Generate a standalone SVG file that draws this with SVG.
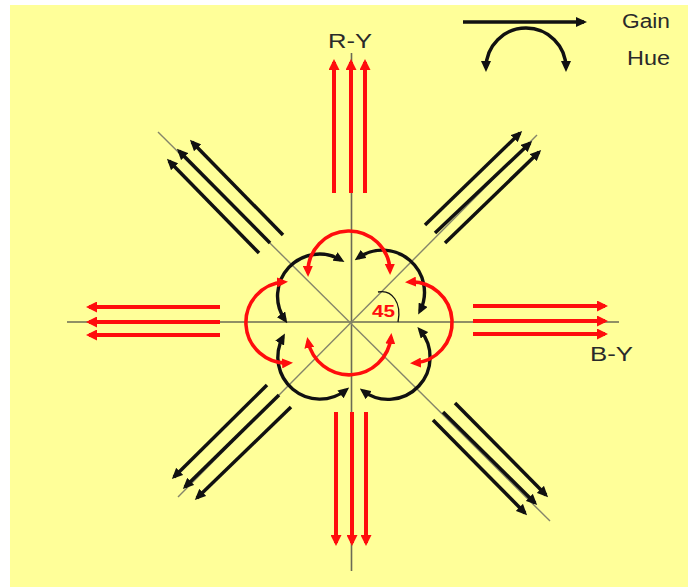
<svg xmlns="http://www.w3.org/2000/svg" width="688" height="587" viewBox="0 0 688 587">
  <defs>
    <style>
      .axis { stroke: #6b6b55; stroke-width: 1.6; fill: none; }
      .diag { stroke: #85856a; stroke-width: 1.4; fill: none; }
      .gk { stroke: #111; stroke-width: 3.5; fill: none; marker-end: url(#ahK); }
      .gr { stroke: #ff0d0d; stroke-width: 4; fill: none; marker-end: url(#ahR); }
      .hk { stroke: #111; stroke-width: 3.4; fill: none; marker-start: url(#ahKs); marker-end: url(#ahKs); }
      .hr { stroke: #ff0d0d; stroke-width: 3.6; fill: none; marker-start: url(#ahRs); marker-end: url(#ahRs); }
      .lbl { font-family: "Liberation Sans", Arial, sans-serif; font-size: 20px; fill: #2a2a2a; }
    </style>
    <marker id="ahK" viewBox="0 0 11 10" markerWidth="11" markerHeight="10" refX="8" refY="5" orient="auto-start-reverse" markerUnits="userSpaceOnUse">
      <path d="M0,0 L11,5 L0,10 z" fill="#111"/>
    </marker>
    <marker id="ahR" viewBox="0 0 11 11" markerWidth="11" markerHeight="11" refX="8" refY="5.5" orient="auto-start-reverse" markerUnits="userSpaceOnUse">
      <path d="M0,0 L11,5.5 L0,11 z" fill="#ff0d0d"/>
    </marker>
    <marker id="ahKs" viewBox="0 0 11 10" markerWidth="11" markerHeight="10" refX="7" refY="5" orient="auto-start-reverse" markerUnits="userSpaceOnUse">
      <path d="M0,0 L11,5 L0,10 z" fill="#111"/>
    </marker>
    <marker id="ahRs" viewBox="0 0 11 10" markerWidth="11" markerHeight="10" refX="7" refY="5" orient="auto-start-reverse" markerUnits="userSpaceOnUse">
      <path d="M0,0 L11,5 L0,10 z" fill="#ff0d0d"/>
    </marker>
  </defs>

  <rect x="0" y="0" width="688" height="587" fill="#ffffff"/>
  <rect x="10" y="5" width="678" height="582" fill="#ffff99"/>

  <g id="axes">
    <line class="axis" x1="351.5" y1="53" x2="351.5" y2="571"/>
    <line class="axis" x1="67" y1="322" x2="619" y2="322"/>
    <line class="diag" x1="158" y1="132" x2="550" y2="521"/>
    <line class="diag" x1="537" y1="135" x2="178" y2="497"/>
  </g>

  <g id="gain-arrows">
    <g id="gain-n">
      <path class="gr" d="M334,193 V62"/>
      <path class="gr" d="M351,193 V62"/>
      <path class="gr" d="M365,193 V62"/>
    </g>
    <g id="gain-s">
      <path class="gr" d="M336,412 V543"/>
      <path class="gr" d="M352,412 V543"/>
      <path class="gr" d="M366,412 V543"/>
    </g>
    <g id="gain-w">
      <path class="gr" d="M220,307 H89"/>
      <path class="gr" d="M220,322 H89"/>
      <path class="gr" d="M220,335 H89"/>
    </g>
    <g id="gain-e">
      <path class="gr" d="M473,306 H605"/>
      <path class="gr" d="M473,321 H605"/>
      <path class="gr" d="M473,334 H605"/>
    </g>
    <g id="gain-nw">
      <path class="gk" d="M259,253 L169,161"/>
      <path class="gk" d="M270,243 L179,151"/>
      <path class="gk" d="M283,235 L192,142"/>
    </g>
    <g id="gain-ne">
      <path class="gk" d="M425,225 L520,133"/>
      <path class="gk" d="M435,233 L530,143"/>
      <path class="gk" d="M445,243 L539,152"/>
    </g>
    <g id="gain-se">
      <path class="gk" d="M455,403 L546,495"/>
      <path class="gk" d="M443,412 L535,503"/>
      <path class="gk" d="M433,420 L525,513"/>
    </g>
    <g id="gain-sw">
      <path class="gk" d="M267,385 L174,477"/>
      <path class="gk" d="M279,395 L185,487"/>
      <path class="gk" d="M291,407 L197,498"/>
    </g>
  </g>

  <g id="hue-arrows">
    <path id="hue-nw" class="hk" d="M285,320 A42,42 0 0 1 341,260"/>
    <path id="hue-ne" class="hk" d="M358,258 A42,42 0 0 1 420,311"/>
    <path id="hue-se" class="hk" d="M420,330 A42,42 0 0 1 363,391"/>
    <path id="hue-sw" class="hk" d="M346,390 A42,42 0 0 1 283,337"/>
    <path id="hue-n" class="hr" d="M308,273 A41,41 0 0 1 390,271"/>
    <path id="hue-e" class="hr" d="M409,282 A40,40 0 0 1 414,363"/>
    <path id="hue-s" class="hr" d="M308,341 A42,42 0 0 0 391,337"/>
    <path id="hue-w" class="hr" d="M284,282 A40,40 0 0 0 289,363"/>
  </g>

  <g id="angle">
    <path d="M378,292 C392,289 402,303 398,322" fill="none" stroke="#111" stroke-width="1.3"/>
    <text x="372" y="317" font-family="Liberation Sans, Arial, sans-serif" font-size="16" font-weight="bold" fill="#ff0d0d" textLength="23" lengthAdjust="spacingAndGlyphs">45</text>
  </g>

  <g id="labels">
    <text class="lbl" x="328" y="48" textLength="44" lengthAdjust="spacingAndGlyphs">R-Y</text>
    <text class="lbl" x="590" y="361" textLength="43" lengthAdjust="spacingAndGlyphs">B-Y</text>
  </g>

  <g id="legend">
    <g id="legend-gain">
      <path class="gk" d="M463,22 H584" stroke-width="3"/>
      <text class="lbl" x="622" y="28" textLength="48" lengthAdjust="spacingAndGlyphs">Gain</text>
    </g>
    <g id="legend-hue">
      <path class="hk" d="M486,68 A40,40 0 0 1 566,68"/>
      <text class="lbl" x="627" y="65" textLength="43" lengthAdjust="spacingAndGlyphs">Hue</text>
    </g>
  </g>
</svg>
